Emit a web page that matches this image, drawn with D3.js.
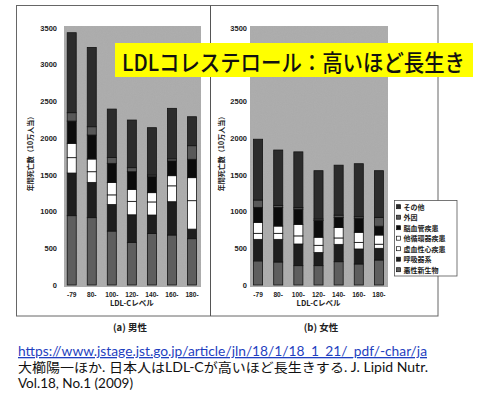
<!DOCTYPE html>
<html><head><meta charset="utf-8">
<script src="https://cdn.jsdelivr.net/npm/d3@7"></script>
<style>body{margin:0;background:#fff}svg{display:block}</style>
</head><body>
<svg id="c" width="480" height="401"></svg>
<script>
const categories = ["-79","80-","100-","120-","140-","160-","180-"];
const causes = ["悪性新生物","呼吸器系","虚血性心疾患","他循環器疾患","脳血管疾患","外因","その他"]; // stacked bottom -> top
const legendOrder = ["その他","外因","脳血管疾患","他循環器疾患","虚血性心疾患","呼吸器系","悪性新生物"];
const yTicks = [0,500,1000,1500,2000,2500,3000,3500];

const menCancer    = [943,916,734,580,700,680,630];
const menResp      = [580,480,361,375,252,453,130];
const menIHD       = [209,145,131,183,178,216,387];
const menOtherCirc = [195,173,169,163,126,138,313];
const menCVD       = [303,326,260,240,217,200,250];
const menExternal  = [114,113,80,55,23,30,185];
const menOther     = [1088,1079,658,648,644,686,394];

const womenCancer    = [328,313,263,263,317,286,340];
const womenResp      = [293,308,295,179,236,204,159];
const womenIHD       = [82,82,110,98,87,90,56];
const womenOtherCirc = [149,99,157,110,142,137,125];
const womenCVD       = [204,254,207,227,138,190,120];
const womenExternal  = [100,27,23,21,30,22,120];
const womenOther     = [827,753,756,657,680,721,635];

const colors = {"悪性新生物":"#5e5e5e","呼吸器系":"#1e1e1e","虚血性心疾患":"#ffffff","他循環器疾患":"#ffffff","脳血管疾患":"#0c0c0c","外因":"#585858","その他":"#2c2c2c"};

function rows(arrs){
  return categories.map((c,i)=>{const r={cat:c};causes.forEach((k,j)=>r[k]=arrs[j][i]);return r;});
}
const menRows = rows([menCancer,menResp,menIHD,menOtherCirc,menCVD,menExternal,menOther]);
const womenRows = rows([womenCancer,womenResp,womenIHD,womenOtherCirc,womenCVD,womenExternal,womenOther]);

const svg = d3.select("#c");
const defs = svg.append("defs");
const f = defs.append("filter").attr("id","noise").attr("x",0).attr("y",0).attr("width","100%").attr("height","100%");
f.append("feTurbulence").attr("type","fractalNoise").attr("baseFrequency",0.9).attr("numOctaves",2).attr("seed",3).attr("result","t");
f.append("feColorMatrix").attr("in","t").attr("type","matrix")
 .attr("values","0 0 0 0 0.5  0 0 0 0 0.5  0 0 0 0 0.5  0.9 0.9 0.9 0 -0.9");

const y = d3.scaleLinear().domain([0,3500]).range([285,27.7]);
const stack = d3.stack().keys(causes);
const font = "'Liberation Sans', Arial, sans-serif";
const jfont = "'Noto Sans CJK JP', sans-serif";

// frame
svg.append("rect").attr("x",16.5).attr("y",5.5).attr("width",421.5).attr("height",310.5)
  .attr("fill","none").attr("stroke","#666").attr("stroke-width",1);
svg.append("line").attr("x1",210.5).attr("x2",210.5).attr("y1",5.5).attr("y2",316)
  .attr("stroke","#555").attr("stroke-width",1);

function panel(data, plotX0, plotX1, bandX0, bandX1, tickRight, yTitleX, label, labelX){
  const g = svg.append("g");
  g.append("rect").attr("x",plotX0).attr("y",26).attr("width",plotX1-plotX0).attr("height",261).attr("fill","#ababab");
  g.append("rect").attr("x",plotX0).attr("y",26).attr("width",plotX1-plotX0).attr("height",261).attr("fill","#ababab").attr("filter","url(#noise)").attr("opacity",0.18);
  const x = d3.scaleBand().domain(categories).range([bandX0,bandX1]).paddingInner(0.55).paddingOuter(0.275);
  const series = stack(data);
  g.selectAll("g.s").data(series).join("g").attr("class","s")
    .attr("fill",d=>colors[d.key])
    .selectAll("rect").data(d=>d).join("rect")
    .attr("x",d=>x(d.data.cat)).attr("width",x.bandwidth())
    .attr("y",d=>y(d[1])).attr("height",d=>y(d[0])-y(d[1]))
    .attr("stroke","#141414").attr("stroke-width",0.8);
  // y axis labels
  const ya = d3.axisLeft(y).tickValues(yTicks).tickFormat(d3.format("d")).tickSize(0).tickPadding(0);
  const ag = g.append("g").attr("transform",`translate(${tickRight},0)`).call(ya);
  ag.select(".domain").remove();
  ag.selectAll("text").attr("font-family",font).attr("font-weight","bold").attr("font-size",7.5).attr("fill","#222");
  // x axis
  const xa = d3.axisBottom(x).tickSize(0).tickPadding(4);
  const xg = g.append("g").attr("transform","translate(0,288)").call(xa);
  xg.select(".domain").remove();
  xg.selectAll("text").attr("font-family",font).attr("font-weight","bold").attr("font-size",6.6).attr("fill","#222");
  // x title
  g.append("text").attr("x",(bandX0+bandX1)/2).attr("y",306).attr("text-anchor","middle")
    .attr("font-family",jfont).attr("font-weight","bold").attr("font-size",7.5).attr("fill","#222").text("LDL-Cレベル");
  // y title
  g.append("text").attr("transform",`translate(${yTitleX},152) rotate(-90)`).attr("text-anchor","middle")
    .attr("dominant-baseline","central")
    .attr("font-family",jfont).attr("font-weight","bold").attr("font-size",7).attr("fill","#222").text("年間死亡数（10万人当）");
  // panel label
  svg.append("text").attr("x",labelX).attr("y",331).attr("text-anchor","middle")
    .attr("font-family",jfont).attr("font-weight","bold").attr("font-size",9.5).attr("fill","#222").text(label);
}
panel(menRows, 64, 201, 61.7, 202, 57, 29.5, "(a) 男性", 130);
panel(womenRows, 250, 388, 248, 389, 247, 221, "(b) 女性", 321);

// legend
const lg = svg.append("g");
lg.append("rect").attr("x",394.5).attr("y",200.5).attr("width",62.5).attr("height",75.5).attr("fill","#fff").attr("stroke","#555").attr("stroke-width",0.8);
legendOrder.forEach((k,i)=>{
  const yy = 206.7 + i*10.5;
  lg.append("rect").attr("x",396.5).attr("y",yy-2).attr("width",4).attr("height",4).attr("fill",colors[k]).attr("stroke","#111").attr("stroke-width",0.7);
  lg.append("text").attr("x",403.5).attr("y",yy).attr("dominant-baseline","central")
    .attr("font-family",jfont).attr("font-weight","bold").attr("font-size",7).attr("fill","#222").text(k);
});

// banner
svg.append("rect").attr("x",115).attr("y",43).attr("width",358).attr("height",34).attr("fill","#ffff00");
svg.append("text").attr("x",122).attr("y",61).attr("dominant-baseline","central")
  .attr("font-family",jfont).attr("font-weight",500).attr("font-size",23).attr("fill","#111")
  .attr("textLength",343).attr("lengthAdjust","spacingAndGlyphs").text("LDLコレステロール：高いほど長生き");

// citation
const cf = "Lato, 'Noto Sans CJK JP', sans-serif";
svg.append("text").attr("x",18).attr("y",356).attr("font-family",cf).attr("font-size",13).attr("fill","#1f3fc0")
  .attr("text-decoration","underline").attr("textLength",409).attr("lengthAdjust","spacingAndGlyphs")
  .text("https://www.jstage.jst.go.jp/article/jln/18/1/18_1_21/_pdf/-char/ja");
svg.append("text").attr("x",18).attr("y",372).attr("font-family",cf).attr("font-size",13).attr("fill","#111")
  .attr("textLength",410).attr("lengthAdjust","spacingAndGlyphs")
  .text("大櫛陽一ほか. 日本人はLDL-Cが高いほど長生きする. J. Lipid Nutr.");
svg.append("text").attr("x",18).attr("y",388).attr("font-family",cf).attr("font-size",13).attr("fill","#111")
  .attr("textLength",115).attr("lengthAdjust","spacingAndGlyphs")
  .text("Vol.18, No.1 (2009)");
</script>
</body></html>
